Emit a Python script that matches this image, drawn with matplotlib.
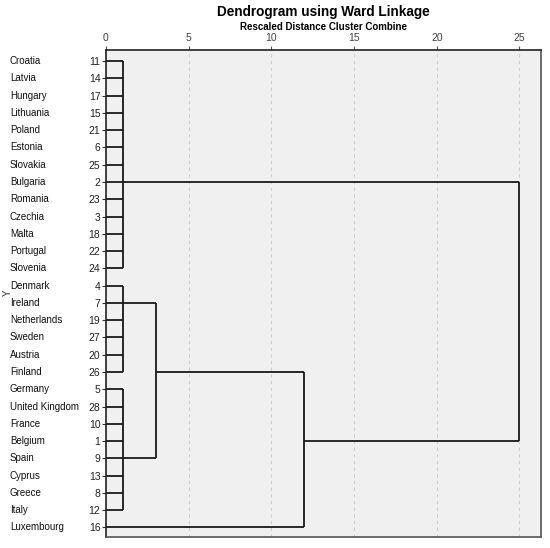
import matplotlib.pyplot as plt
import matplotlib.transforms as mtransforms

plt.rcParams['font.family'] = ['Liberation Sans', 'DejaVu Sans']

# leaves, top to bottom
countries = ['Croatia', 'Latvia', 'Hungary', 'Lithuania', 'Poland', 'Estonia',
             'Slovakia', 'Bulgaria', 'Romania', 'Czechia', 'Malta', 'Portugal',
             'Slovenia', 'Denmark', 'Ireland', 'Netherlands', 'Sweden', 'Austria',
             'Finland', 'Germany', 'United Kingdom', 'France', 'Belgium', 'Spain',
             'Cyprus', 'Greece', 'Italy', 'Luxembourg']
case_ids = [11, 14, 17, 15, 21, 6, 25, 2, 23, 3, 18, 22, 24, 4, 7, 19, 27, 20,
            26, 5, 28, 10, 1, 9, 13, 8, 12, 16]

# merges: (children, rescaled distance, row where the merged cluster is drawn)
# children are leaf indices ("L<i>") or earlier merge names
merges = {
    'east':  (['L%d' % i for i in range(0, 13)], 1, 7),
    'north': (['L%d' % i for i in range(13, 19)], 1, 14),
    'west':  (['L%d' % i for i in range(19, 27)], 1, 23),
    'nw':    (['north', 'west'], 3, 18),
    'nwl':   (['nw', 'L27'], 12, 22),
    'all':   (['east', 'nwl'], 25, 7),
}
xticks = [0, 5, 10, 15, 20, 25]

fig = plt.figure(figsize=(5.5, 5.48), dpi=100)
ax = fig.add_axes([0.1927, 0.0201, 0.7909, 0.8887])
ax.set_facecolor('#f0f0f0')

node = {}
for i in range(len(countries)):
    node['L%d' % i] = (i, 0)

for name, (children, h, row) in merges.items():
    rows = []
    for c in children:
        r, ch = node[c]
        ax.plot([ch, h], [r, r], color='#1a1a1a', lw=1.3, solid_capstyle='butt')
        rows.append(r)
    ax.plot([h, h], [min(rows), max(rows)], color='#1a1a1a', lw=1.3,
            solid_capstyle='butt')
    node[name] = (row, h)

ax.set_xlim(0, 26.3)
ax.set_ylim(27.55, -0.64)

ax.xaxis.tick_top()
ax.set_xticks(xticks)
ax.set_xticklabels([str(t) for t in xticks], fontsize=7.5, color='#444444')
ax.tick_params(axis='x', length=3, width=0.8, color='#555555', pad=2)
for t in xticks[1:]:
    ax.axvline(t, color='#cfcfcf', lw=0.8, ls=(0, (3, 3)), zorder=0)

ax.set_yticks(range(len(case_ids)))
ax.set_yticklabels([str(c) for c in case_ids], fontsize=7.5, color='#222222')
ax.tick_params(axis='y', length=3, width=0.8, color='#333333', pad=1)

# country names: fixed figure x, data y
name_trans = mtransforms.blended_transform_factory(fig.transFigure, ax.transData)
for i, name in enumerate(countries):
    ax.text(10 / 550, i, name, transform=name_trans, fontsize=7,
            ha='left', va='center', color='#111111', clip_on=False)

fig.text(3 / 550, 1 - 293 / 548, 'Y', rotation=90, fontsize=7, ha='left',
         va='center', color='#333333')

for side in ['top', 'left']:
    ax.spines[side].set_color('#222222')
    ax.spines[side].set_linewidth(1.2)
for side in ['right', 'bottom']:
    ax.spines[side].set_color('#555555')
    ax.spines[side].set_linewidth(1.2)

fig.text(323 / 550, 1 - 12 / 548, 'Dendrogram using Ward Linkage', fontsize=9.8,
         fontweight='bold', ha='center', va='center')
fig.text(323 / 550, 1 - 27 / 548, 'Rescaled Distance Cluster Combine', fontsize=7,
         fontweight='bold', ha='center', va='center')

fig.savefig('out.png', dpi=100, facecolor='white')
